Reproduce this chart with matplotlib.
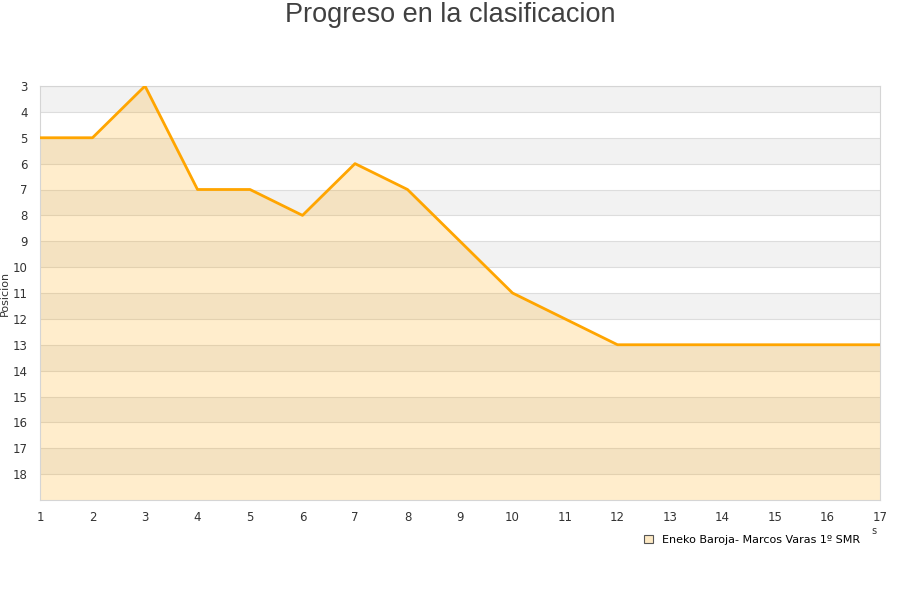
import matplotlib
matplotlib.use("Agg")
import matplotlib.pyplot as plt
from matplotlib.patches import Patch

# DATA
jornadas = list(range(1, 18))
posiciones = [5, 5, 3, 7, 7, 8, 6, 7, 9, 11, 12, 13, 13, 13, 13, 13, 13]
y_ticks = list(range(3, 19))
serie = "Eneko Baroja- Marcos Varas 1º SMR"

fig = plt.figure(figsize=(9, 6), dpi=100)
ax = fig.add_axes([40 / 900, 100 / 600, 840 / 900, 414 / 600])

# alternating bands
for y in range(3, 19):
    if (y - 3) % 2 == 0:
        ax.axhspan(y, y + 1, color="#f2f2f2", zorder=0, lw=0)
    ax.axhline(y, color="#dddddd", lw=0.8, zorder=1)

ax.fill_between(jornadas, posiciones, 19, color="#FFA500", alpha=0.2, lw=0, zorder=2)
ax.plot(jornadas, posiciones, color="#FFA500", lw=2.0, zorder=3)

ax.set_xlim(1, 17)
ax.set_ylim(19, 3)
ax.set_xticks(jornadas)
ax.set_yticks(y_ticks)
ax.tick_params(axis="both", length=0, labelsize=8.5, colors="#333333")
ax.tick_params(axis="x", pad=8)
ax.tick_params(axis="y", pad=9)
for s in ax.spines.values():
    s.set_color("#d5d5d5")
    s.set_linewidth(0.8)

ax.set_ylabel("Posicion", fontsize=8, color="#333333", labelpad=2)
fig.text(874 / 900, 1 - 531 / 600, "s", fontsize=7, color="#333333", ha="center", va="center")

fig.text(0.5, 1 - 15 / 600, "Progreso en la clasificacion", fontsize=19.5, color="#404040",
         ha="center", va="center", family="Liberation Sans")

handle = Patch(facecolor="#fde9c4", edgecolor="#555555", lw=0.8)
fig.legend([handle], [serie], loc="center", bbox_to_anchor=(752 / 900, 1 - 540 / 600),
           frameon=False, fontsize=8, handlelength=0.8, handleheight=0.8, handletextpad=0.8)

fig.savefig("out.png", dpi=100)
